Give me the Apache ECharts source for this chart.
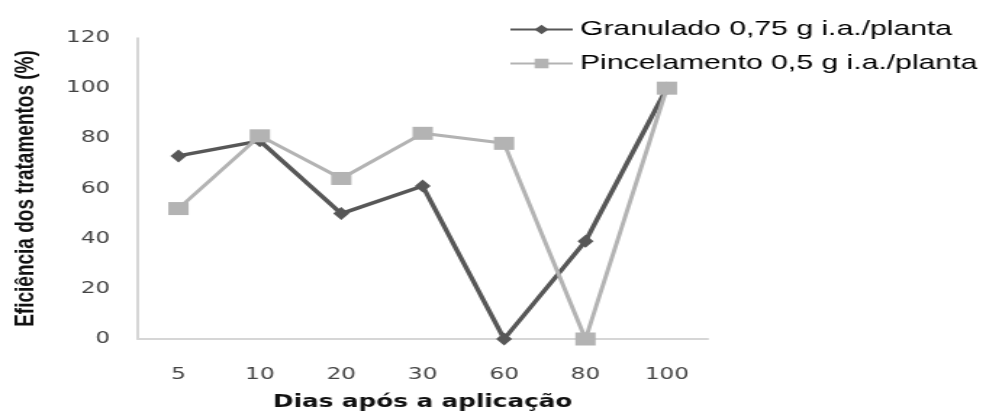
<!DOCTYPE html>
<html><head><meta charset="utf-8">
<script src="https://cdn.jsdelivr.net/npm/echarts@6/dist/echarts.min.js"></script>
<style>
html,body{margin:0;padding:0;background:#fff;overflow:hidden}
#wrap{width:981px;height:416px;overflow:hidden}
#c{width:677px;height:416px;transform:scaleX(1.45);transform-origin:0 0}
</style>
</head><body><div id="wrap"><div id="c"></div></div>
<script>
const categories = ['5','10','20','30','60','80','100'];
const granulado = [73, 79, 50, 61, 0, 39, 100];
const pincelamento = [52, 81, 64, 82, 78, 0, 100];
const seriesNames = ['Granulado 0,75 g i.a./planta', 'Pincelamento 0,5 g i.a./planta'];
const yTicks = {min:0, max:120, interval:20};

const chart = echarts.init(document.getElementById('c'), null, {renderer:'canvas'});
chart.setOption({
  animation:false,
  backgroundColor:'#fff',
  grid:{left:93, right:189, top:38, bottom:75},
  legend:{
    orient:'vertical', left:346, top:14, itemGap:13, itemWidth:43, itemHeight:12,
    textStyle:{fontFamily:'Liberation Sans', fontSize:20.8, color:'#000'},
    data:seriesNames
  },
  xAxis:{
    type:'category', data:categories, boundaryGap:true,
    name:'Dias após a aplicação', nameLocation:'middle', nameGap:55,
    nameTextStyle:{fontFamily:'DejaVu Sans', fontWeight:'bold', fontSize:17, color:'#111'},
    axisLine:{lineStyle:{color:'#d6d6d6', width:2}},
    axisTick:{show:false},
    axisLabel:{fontFamily:'DejaVu Sans', fontSize:16, color:'#444', margin:28}
  },
  yAxis:{
    type:'value', min:yTicks.min, max:yTicks.max, interval:yTicks.interval,
    name:'Eficiência dos tratamentos (%)', nameLocation:'middle', nameGap:68, nameRotate:90,
    nameTextStyle:{fontFamily:'Liberation Sans', fontWeight:'bold', fontSize:19, color:'#111'},
    axisLine:{show:true, lineStyle:{color:'#c8c8c8', width:1.5}},
    axisTick:{show:false},
    splitLine:{show:false},
    axisLabel:{fontFamily:'DejaVu Sans', fontSize:16, color:'#444', margin:19}
  },
  series:[
    {name:seriesNames[0], type:'line', data:granulado, symbol:'diamond', symbolSize:[11,13],
     lineStyle:{color:'#575757', width:3.5}, itemStyle:{color:'#575757'}, z:2},
    {name:seriesNames[1], type:'line', data:pincelamento, symbol:'rect', symbolSize:[14,13],
     lineStyle:{color:'#b3b3b3', width:3}, itemStyle:{color:'#b3b3b3'}, z:3}
  ]
});
</script></body></html>
